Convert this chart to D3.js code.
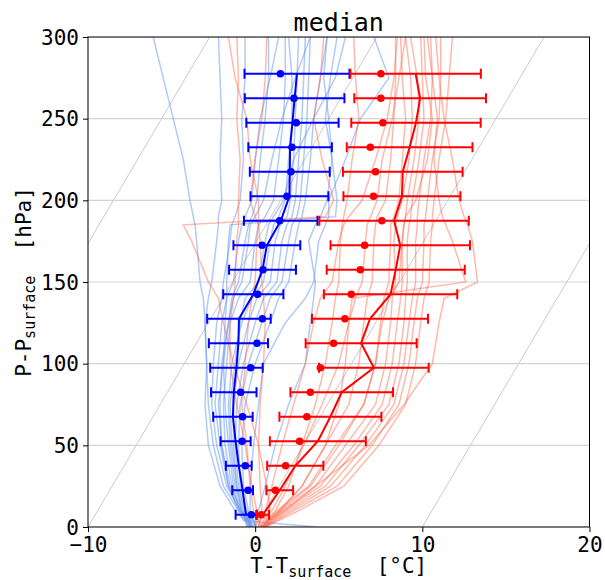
<!DOCTYPE html>
<html>
<head>
<meta charset="utf-8">
<script src="https://cdn.jsdelivr.net/npm/d3@7"></script>
<style>
  body { margin: 0; background: #fff; }
  text { font-family: "DejaVu Sans Mono", monospace; }
</style>
</head>
<body>
<div id="chart"></div>
<script>
// bin centres of the summary statistics (hPa above surface)
const levels = [7.5, 22.5, 37.5, 52.5, 67.5, 82.5, 97.5, 112.5, 127.5, 142.5, 157.5, 172.5, 187.5, 202.5, 217.5, 232.5, 247.5, 262.5, 277.5];

// blue group
const blueMedian = [-0.55, -0.75, -0.98, -1.17, -1.33, -1.28, -1.12, -1.0, -0.97, -0.11, 0.44, 0.7, 1.53, 2.05, 2.07, 2.09, 2.23, 2.36, 2.5];
const blueMean = [-0.23, -0.42, -0.59, -0.78, -0.75, -0.87, -0.27, 0.11, 0.43, 0.15, 0.47, 0.41, 1.47, 1.9, 2.14, 2.2, 2.46, 2.32, 1.51];
const blueErr = [0.62, 0.62, 0.77, 0.9, 1.18, 1.36, 1.57, 1.77, 1.9, 1.8, 2.0, 2.0, 2.2, 2.33, 2.39, 2.5, 2.76, 2.98, 3.14];

// red group
const redMedian = [0.47, 1.47, 2.4, 3.75, 4.5, 5.18, 7.1, 6.34, 6.87, 8.1, 8.41, 8.68, 8.31, 8.78, 8.83, 9.24, 9.62, 9.87, 9.6];
const redMean = [0.37, 1.21, 1.82, 2.66, 3.09, 3.3, 3.9, 4.69, 5.37, 5.75, 6.29, 6.55, 7.58, 7.08, 7.2, 6.89, 7.64, 7.52, 7.52];
const redErr = [0.36, 0.8, 1.68, 2.87, 3.05, 3.07, 3.28, 3.32, 3.47, 3.99, 4.13, 4.17, 4.47, 3.5, 3.58, 3.76, 3.87, 3.94, 3.9];

// individual profiles, temperatures at these pressure levels
const profileP = [0, 4, 10, 25, 50, 75, 100, 125, 140, 150, 175, 185, 190, 200, 225, 250, 275, 300];

const blueProfiles = [
  [-0.4, -0.5, -1.0, -1.9, -2.5, -2.8, -2.9, -3.0, -3.1, -3.3, -3.5, -3.6, -3.7, -3.9, -4.3, -4.9, -5.5, -6.1],
  [-0.5, -0.6, -1.2, -2.1, -2.8, -3.0, -2.9, -3.0, -2.8, -2.6, -2.3, -2.2, -2.2, -2.0, -2.1, -2.0, -2.1, -2.2],
  [-0.3, -0.4, -0.9, -1.7, -2.3, -2.6, -2.5, -2.3, -2.0, -1.9, -1.5, -1.4, -1.2, -0.9, -0.7, -0.8, -0.6, -0.6],
  [-0.2, -0.3, -0.8, -1.5, -2.0, -2.2, -1.9, -1.6, -1.4, -1.0, -0.6, -0.4, -0.2, 0.1, 0.3, 0.6, 0.8, 0.8],
  [-0.3, -0.5, -0.9, -1.4, -1.8, -1.9, -1.7, -1.5, -1.0, -0.3, 0.0, 0.2, 0.6, 1.1, 1.4, 1.7, 1.8, 1.8],
  [-0.2, -0.4, -0.7, -1.2, -1.5, -1.6, -1.4, -0.8, -0.2, 0.5, 0.9, 1.1, 1.4, 1.8, 2.0, 2.2, 2.2, 2.0],
  [-0.4, -0.6, -0.8, -1.1, -1.3, -1.3, -1.0, -0.4, 0.1, 0.9, 1.2, 1.5, 1.9, 2.1, 2.3, 2.4, 2.5, 2.6],
  [-0.1, -0.3, -0.6, -1.0, -1.2, -1.1, -0.7, 0.0, 0.5, 1.3, 1.6, 1.9, 2.2, 2.4, 2.6, 2.8, 2.9, 3.0],
  [0.0, -0.2, -0.5, -0.9, -1.0, -0.9, -0.4, 0.4, 0.9, 1.6, 2.0, 2.2, 2.5, 2.7, 2.9, 3.1, 3.2, 3.3],
  [0.1, -0.1, -0.4, -0.7, -0.8, -0.6, 0.0, 0.9, 1.4, 2.0, 2.4, 2.6, 2.8, 3.0, 3.3, 3.5, 3.9, 4.3],
  [0.0, -0.1, -0.3, -0.3, -0.1, 0.2, 0.5, 1.8, 3.0, 3.5, 3.8, 4.2, 4.4, 4.4, 5.4, 6.3, 8.0, 7.1],
  [3.7, -0.7, -1.0, -1.6, -2.0, -2.1, -2.0, -1.6, -1.3, -0.8, -0.4, -0.3, 0.0, 0.5, 1.0, 1.6, 2.4, 3.3],
  [-0.3, -0.4, -0.8, -1.3, -1.6, -1.8, -1.9, -1.8, -1.7, -1.7, -1.6, -1.5, 4.8, 4.9, 4.6, 4.2, 4.5, 4.9],
  [-0.2, -0.3, -0.6, -1.1, -1.4, -1.5, -1.2, -0.9, -0.6, 0.2, 0.6, 0.8, 1.1, 1.7, 2.3, 3.5, 4.8, 5.4],
  [-0.3, -0.5, -0.9, -1.6, -2.1, -2.4, -2.2, -2.0, -1.7, -1.3, -1.0, -0.8, -0.6, -0.2, 0.0, 0.3, 0.9, 1.4],
  [0.0, 0.0, 0.2, 0.6, 1.2, 2.0, 3.0, 3.3, 3.5, 3.6, 3.2, 3.6, 3.9, 4.3, 4.6, 4.4, 4.1, 4.3]
];

const redProfiles = [
  [0.0, 0.1, -0.1, -0.3, -0.5, -0.8, -0.6, -0.4, -0.2, 0.0, 0.1, 0.2, 0.2, 0.2, -0.3, -0.5, -1.2, -1.6],
  [0.2, 0.2, 0.1, -0.2, -0.6, -1.1, -1.5, -1.5, -1.3, -1.2, -1.1, -1.0, -1.0, -1.0, -0.9, -1.1, -1.0, -1.1],
  [0.3, 0.3, 0.4, 0.3, 0.2, 0.3, 0.5, 0.6, 0.5, 0.4, 0.3, 0.2, 0.0, -0.3, 0.0, 0.4, 0.6, 0.7],
  [0.3, 0.5, 0.9, 0.7, 0.2, -0.5, -1.3, -1.9, -2.2, -2.8, -3.8, -4.3, 4.2, 4.7, 4.0, 3.5, 3.9, 4.1],
  [0.4, 0.7, 1.2, 2.0, 2.8, 3.6, 4.2, 4.6, 4.8, 5.0, 5.1, 5.2, 5.3, 5.5, 5.8, 6.2, 6.0, 5.9],
  [0.5, 0.8, 1.4, 2.8, 4.2, 5.6, 6.2, 6.5, 6.7, 7.0, 7.1, 7.2, 7.3, 7.8, 8.1, 8.3, 8.4, 8.4],
  [0.4, 0.7, 1.3, 3.2, 4.8, 6.5, 7.2, 7.5, 7.7, 8.0, 8.1, 8.1, 8.3, 8.6, 8.8, 9.0, 8.8, 8.7],
  [0.5, 0.9, 1.6, 3.6, 5.4, 7.2, 7.8, 8.1, 8.2, 8.4, 8.3, 8.4, 8.5, 8.8, 9.2, 9.4, 9.3, 9.0],
  [0.6, 1.0, 1.7, 3.9, 5.9, 7.6, 8.2, 8.5, 8.7, 8.8, 8.8, 8.9, 9.0, 9.1, 9.5, 9.8, 9.7, 9.3],
  [0.6, 1.1, 1.9, 4.2, 6.2, 8.0, 8.6, 8.9, 9.0, 9.1, 9.1, 9.2, 9.3, 9.4, 9.8, 10.1, 10.0, 9.9],
  [0.5, 1.2, 2.1, 4.5, 6.6, 8.3, 8.9, 9.2, 9.4, 9.6, 9.6, 9.7, 9.7, 9.8, 10.1, 10.5, 10.6, 10.5],
  [0.6, 1.3, 2.3, 4.9, 7.0, 8.6, 9.2, 9.5, 9.7, 10.0, 10.1, 10.1, 10.2, 10.3, 10.6, 11.0, 11.1, 11.1],
  [0.7, 1.4, 2.6, 5.3, 7.4, 9.0, 9.6, 9.9, 10.1, 10.4, 10.5, 10.6, 10.6, 10.7, 11.0, 11.4, 11.6, 11.8],
  [0.5, 0.9, 1.8, 3.6, 6.8, 8.9, 10.6, 11.0, 11.3, 13.3, 13.0, 12.7, 12.5, 12.2, 11.8, 11.3, 11.0, 10.8],
  [0.4, 0.8, 1.5, 2.8, 4.2, 5.0, 5.4, 5.6, 5.8, 12.6, 11.8, 11.4, 11.2, 11.0, 10.7, 10.9, 10.6, 10.3],
  [0.3, 0.6, 1.0, 1.8, 2.9, 4.0, 5.0, 5.6, 6.0, 6.4, 6.6, 6.7, 6.9, 7.3, 7.6, 8.2, 8.6, 9.0],
  [0.2, 0.3, 0.6, 1.0, 1.6, 2.3, 3.0, 3.5, 3.9, 4.6, 5.0, 5.3, 5.6, 6.4, 7.2, 7.9, 8.3, 8.5],
  [0.4, 0.8, 1.5, 3.3, 5.0, 6.5, 7.2, 7.6, 8.0, 8.6, 8.8, 8.9, 9.0, 9.6, 10.3, 10.6, 10.2, 10.1]
];

// background reference lines: T = offset + slope * p
const refOffsets = [-20, -10, 0, 10, 20];
const refSlope = 10 / 173.6;

const xTicks = [-10, 0, 10, 20];
const yTicks = [0, 50, 100, 150, 200, 250, 300];

const width = 605;
const height = 580;
const margin = { top: 37, right: 15.5, bottom: 53, left: 88 };

const svg = d3.select("#chart")
    .append("svg")
    .attr("width", width)
    .attr("height", height);

const x = d3.scaleLinear()
    .domain([-10, 20])
    .range([margin.left, width - margin.right]);

const y = d3.scaleLinear()
    .domain([0, 300])
    .range([height - margin.bottom, margin.top]);

svg.append("defs").append("clipPath")
    .attr("id", "plotArea")
    .append("rect")
    .attr("x", x(-10)).attr("y", y(300))
    .attr("width", x(20) - x(-10))
    .attr("height", y(0) - y(300));

const plot = svg.append("g").attr("clip-path", "url(#plotArea)");

// reference lines
plot.selectAll(".ref")
    .data(refOffsets)
    .enter().append("line")
    .attr("x1", d => x(d))
    .attr("y1", y(0))
    .attr("x2", d => x(d + refSlope * 300))
    .attr("y2", y(300))
    .attr("stroke", "#c4c4c4")
    .attr("stroke-width", 0.9);

// horizontal grid
plot.selectAll(".grid")
    .data(yTicks)
    .enter().append("line")
    .attr("x1", x(-10))
    .attr("x2", x(20))
    .attr("y1", d => y(d))
    .attr("y2", d => y(d))
    .attr("stroke", "#d3d3d3")
    .attr("stroke-width", 1.2);

const profileLine = d3.line()
    .x(d => x(d[0]))
    .y(d => y(d[1]));

function drawProfiles(list, color, op) {
    plot.append("g").selectAll("path")
        .data(list)
        .enter().append("path")
        .attr("d", t => profileLine(t.map((v, i) => [v, profileP[i]])))
        .attr("fill", "none")
        .attr("stroke", color)
        .attr("stroke-opacity", op)
        .attr("stroke-width", 1.5);
}
drawProfiles(blueProfiles, "cornflowerblue", 0.5);
drawProfiles(redProfiles, "tomato", 0.45);

function drawSummary(median, mean, err, color) {
    const g = plot.append("g");
    // error bars round the median
    levels.forEach((p, i) => {
        const lo = x(median[i] - err[i]);
        const hi = x(median[i] + err[i]);
        const yy = y(p);
        g.append("line").attr("x1", lo).attr("x2", hi).attr("y1", yy).attr("y2", yy)
            .attr("stroke", color).attr("stroke-width", 2);
        [lo, hi].forEach(cx => {
            g.append("line").attr("x1", cx).attr("x2", cx).attr("y1", yy - 5).attr("y2", yy + 5)
                .attr("stroke", color).attr("stroke-width", 2);
        });
    });
    // median profile
    g.append("path")
        .attr("d", d3.line().x(d => x(d[0])).y(d => y(d[1]))(median.map((v, i) => [v, levels[i]])))
        .attr("fill", "none")
        .attr("stroke", color)
        .attr("stroke-width", 2);
    // means
    g.selectAll("circle")
        .data(mean)
        .enter().append("circle")
        .attr("cx", d => x(d))
        .attr("cy", (d, i) => y(levels[i]))
        .attr("r", 3.8)
        .attr("fill", color);
}
drawSummary(blueMedian, blueMean, blueErr, "blue");
drawSummary(redMedian, redMean, redErr, "red");

// axes
const xAxis = svg.append("g")
    .attr("transform", `translate(0,${y(0)})`)
    .call(d3.axisBottom(x).tickValues(xTicks).tickSize(5).tickPadding(5));
const yAxis = svg.append("g")
    .attr("transform", `translate(${x(-10)},0)`)
    .call(d3.axisLeft(y).tickValues(yTicks).tickSize(5).tickPadding(4));

[xAxis, yAxis].forEach(a => {
    a.select(".domain").remove();
    a.selectAll("text").style("font-size", "21px").attr("fill", "#000")
        .style("font-family", "'DejaVu Sans Mono', monospace");
    a.selectAll("line").attr("stroke", "#000");
});
yAxis.selectAll("text").attr("dy", "0.34em");

// frame
svg.append("rect")
    .attr("x", x(-10)).attr("y", y(300))
    .attr("width", x(20) - x(-10))
    .attr("height", y(0) - y(300))
    .attr("fill", "none")
    .attr("stroke", "#000")
    .attr("stroke-width", 1);

// title
svg.append("text")
    .attr("x", (x(-10) + x(20)) / 2)
    .attr("y", 31)
    .attr("text-anchor", "middle")
    .style("font-size", "25px")
    .text("median");

// x label
const xl = svg.append("text")
    .attr("x", (x(-10) + x(20)) / 2)
    .attr("y", 573)
    .attr("text-anchor", "middle")
    .style("font-size", "21px");
xl.append("tspan").text("T-T");
xl.append("tspan").attr("dy", 4).style("font-size", "15px").text("surface");
xl.append("tspan").attr("dy", -4).text("\u00a0\u00a0[°C]");

// y label
const yl = svg.append("text")
    .attr("transform", `translate(31,${(y(0) + y(300)) / 2}) rotate(-90)`)
    .attr("text-anchor", "middle")
    .style("font-size", "21px");
yl.append("tspan").text("P-P");
yl.append("tspan").attr("dy", 4).style("font-size", "15px").text("surface");
yl.append("tspan").attr("dy", -4).text("\u00a0\u00a0[hPa]");
</script>
</body>
</html>
